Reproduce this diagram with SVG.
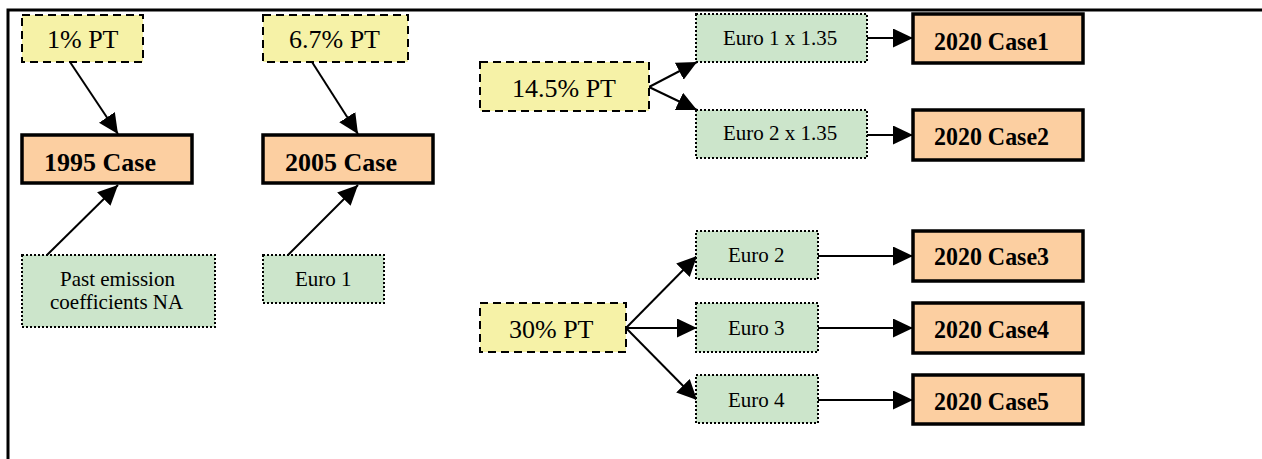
<svg xmlns="http://www.w3.org/2000/svg" width="1262" height="459" viewBox="0 0 1262 459">
  <style>
    .pt { fill: #f6f2a7; stroke: #000; stroke-width: 2; stroke-dasharray: 8 5; }
    .case { fill: #fccfa1; stroke: #000; stroke-width: 3.5; }
    .euro { fill: #cce5cb; stroke: #000; stroke-width: 2; stroke-dasharray: 2 2; }
    .t { font-family: "Liberation Serif", "Times New Roman", serif; fill: #000; }
    .tpt { font-size: 26px; }
    .teuro { font-size: 21px; }
    .tcase { font-size: 26px; font-weight: bold; }
    .edge { stroke: #000; stroke-width: 2; fill: none; marker-end: url(#arrow); }
    .frame { stroke: #000; stroke-width: 3; fill: none; }
  </style>
  <defs>
    <marker id="arrow" markerUnits="userSpaceOnUse" markerWidth="22" markerHeight="22" refX="20" refY="9.5" orient="auto">
      <path d="M0,0 L20,9.5 L0,19 Z" fill="#000"/>
    </marker>
  </defs>

  <rect width="1262" height="459" fill="#fff"/>
  <!-- outer frame: top and left edges only -->
  <path class="frame" d="M8,459 L8,10 L1262,10"/>

  <!-- connectors -->
  <g id="connectors">
    <line class="edge" x1="70" y1="62" x2="118" y2="134"/>
    <line class="edge" x1="47" y1="255" x2="118" y2="185"/>
    <line class="edge" x1="312" y1="62" x2="358" y2="134"/>
    <line class="edge" x1="288" y1="255" x2="358" y2="185"/>
    <line class="edge" x1="649" y1="87" x2="697" y2="62"/>
    <line class="edge" x1="649" y1="87" x2="697" y2="110"/>
    <line class="edge" x1="867" y1="38" x2="913" y2="38"/>
    <line class="edge" x1="867" y1="135" x2="913" y2="135"/>
    <line class="edge" x1="626" y1="328" x2="697" y2="256"/>
    <line class="edge" x1="626" y1="328" x2="697" y2="328"/>
    <line class="edge" x1="626" y1="328" x2="697" y2="400"/>
    <line class="edge" x1="818" y1="256" x2="913" y2="256"/>
    <line class="edge" x1="818" y1="328" x2="913" y2="328"/>
    <line class="edge" x1="818" y1="400" x2="913" y2="400"/>
  </g>

  <!-- 1995 branch -->
  <g id="pt1">
    <rect class="pt" x="22" y="15" width="121" height="47"/>
    <text class="t tpt" x="47" y="48">1% PT</text>
  </g>
  <g id="case1995">
    <rect class="case" x="22" y="135" width="170" height="48"/>
    <text class="t tcase" x="44" y="171">1995 Case</text>
  </g>
  <g id="pastcoef">
    <rect class="euro" x="22" y="255" width="193" height="72"/>
    <text class="t teuro" x="60" y="286">Past emission</text>
    <text class="t teuro" x="50" y="309">coefficients NA</text>
  </g>

  <!-- 2005 branch -->
  <g id="pt67">
    <rect class="pt" x="263" y="15" width="145" height="47"/>
    <text class="t tpt" x="289" y="48">6.7% PT</text>
  </g>
  <g id="case2005">
    <rect class="case" x="263" y="135" width="170" height="48"/>
    <text class="t tcase" x="285" y="171">2005 Case</text>
  </g>
  <g id="euro1">
    <rect class="euro" x="263" y="255" width="121" height="48"/>
    <text class="t teuro" x="295" y="286">Euro 1</text>
  </g>

  <!-- 2020, 14.5% PT branch -->
  <g id="pt145">
    <rect class="pt" x="480" y="62" width="169" height="49"/>
    <text class="t tpt" x="512" y="97">14.5% PT</text>
  </g>
  <g id="euro1x">
    <rect class="euro" x="696" y="14" width="171" height="48"/>
    <text class="t teuro" x="723" y="45">Euro 1 x 1.35</text>
  </g>
  <g id="euro2x">
    <rect class="euro" x="696" y="110" width="171" height="48"/>
    <text class="t teuro" x="723" y="140">Euro 2 x 1.35</text>
  </g>
  <g id="case2020_1">
    <rect class="case" x="913" y="14" width="170" height="49"/>
    <text class="t tcase" x="934" y="50" textLength="115" lengthAdjust="spacingAndGlyphs">2020 Case1</text>
  </g>
  <g id="case2020_2">
    <rect class="case" x="913" y="110" width="170" height="50"/>
    <text class="t tcase" x="934" y="145" textLength="115" lengthAdjust="spacingAndGlyphs">2020 Case2</text>
  </g>

  <!-- 2020, 30% PT branch -->
  <g id="pt30">
    <rect class="pt" x="480" y="303" width="146" height="49"/>
    <text class="t tpt" x="509" y="338">30% PT</text>
  </g>
  <g id="euro2">
    <rect class="euro" x="696" y="231" width="122" height="48"/>
    <text class="t teuro" x="728" y="262">Euro 2</text>
  </g>
  <g id="euro3">
    <rect class="euro" x="696" y="303" width="122" height="49"/>
    <text class="t teuro" x="728" y="335">Euro 3</text>
  </g>
  <g id="euro4">
    <rect class="euro" x="696" y="375" width="122" height="48"/>
    <text class="t teuro" x="728" y="407">Euro 4</text>
  </g>
  <g id="case2020_3">
    <rect class="case" x="913" y="231" width="170" height="50"/>
    <text class="t tcase" x="934" y="265" textLength="115" lengthAdjust="spacingAndGlyphs">2020 Case3</text>
  </g>
  <g id="case2020_4">
    <rect class="case" x="913" y="303" width="170" height="50"/>
    <text class="t tcase" x="934" y="338" textLength="115" lengthAdjust="spacingAndGlyphs">2020 Case4</text>
  </g>
  <g id="case2020_5">
    <rect class="case" x="913" y="375" width="170" height="49"/>
    <text class="t tcase" x="934" y="410" textLength="115" lengthAdjust="spacingAndGlyphs">2020 Case5</text>
  </g>
</svg>
